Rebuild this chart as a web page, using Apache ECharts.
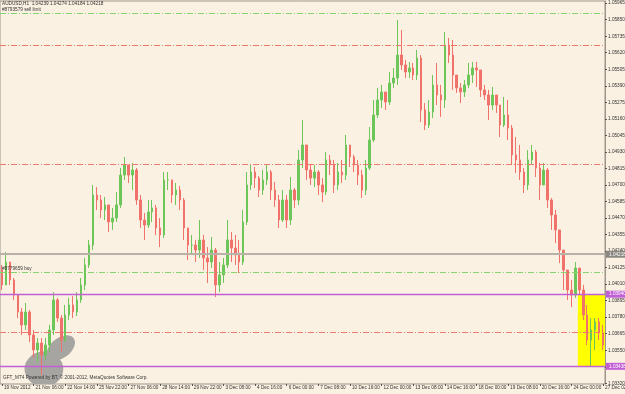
<!DOCTYPE html>
<html><head><meta charset="utf-8">
<script src="https://cdn.jsdelivr.net/npm/echarts@6/dist/echarts.min.js"></script>
<style>html,body{margin:0;padding:0;background:#fbf1e2;}#c{width:625px;height:394px;}</style>
</head><body><div id="c"></div>
<script>
// ---- data (AUDUSD H1, one candle per ~4 hours) ----
const firstOpen = 1.04108;
const closes = [
1.04004,1.04164,1.04039,1.03934,1.03816,1.03726,1.03816,1.03656,1.03552,1.03600,
1.03517,1.03586,1.03691,1.03900,1.03774,1.03621,1.03795,1.03865,1.03816,1.03900,
1.04004,1.04143,1.04282,1.04630,1.04595,1.04526,1.04561,1.04442,1.04470,1.04561,
1.04769,1.04839,1.04769,1.04804,1.04595,1.04456,1.04421,1.04512,1.04540,1.04401,
1.04352,1.04735,1.04735,1.04630,1.04665,1.04595,1.04401,1.04282,1.04282,1.04247,
1.04317,1.04192,1.04164,1.04247,1.04004,1.04074,1.04143,1.04317,1.04261,1.04213,
1.04164,1.04442,1.04700,1.04790,1.04748,1.04665,1.04735,1.04790,1.04665,1.04595,
1.04456,1.04595,1.04456,1.04665,1.04595,1.04874,1.04978,1.04804,1.04748,1.04790,
1.04700,1.04651,1.04874,1.04839,1.04700,1.04790,1.04769,1.04978,1.04895,1.04839,
1.04769,1.04665,1.04818,1.05013,1.05187,1.05291,1.05347,1.05277,1.05409,1.05444,
1.05604,1.05535,1.05486,1.05514,1.05465,1.05583,1.05222,1.05117,1.05208,1.05396,
1.05326,1.05291,1.05674,1.05604,1.05465,1.05375,1.05347,1.05396,1.05465,1.05514,
1.05500,1.05361,1.05326,1.05256,1.05326,1.05256,1.05117,1.05187,1.05096,1.04909,
1.04874,1.04790,1.04700,1.04874,1.04929,1.04818,1.04700,1.04804,1.04595,1.04491,
1.04387,1.04247,1.04108,1.03969,1.03934,1.04122,1.03969,1.03795,1.03621,1.03691,
1.03747,1.03670,1.03586];
const highs = [
1.04143,1.04234,1.04143,1.04053,1.03934,1.03844,1.03879,1.03830,1.03691,1.03635,
1.03635,1.03635,1.03726,1.03955,1.03914,1.03795,1.03865,1.03914,1.03927,1.03955,
1.04053,1.04192,1.04317,1.04700,1.04686,1.04630,1.04616,1.04561,1.04540,1.04651,
1.04818,1.04895,1.04839,1.04853,1.04818,1.04630,1.04505,1.04595,1.04595,1.04561,
1.04470,1.04790,1.04790,1.04735,1.04714,1.04693,1.04609,1.04387,1.04352,1.04317,
1.04456,1.04352,1.04268,1.04338,1.04261,1.04164,1.04192,1.04456,1.04373,1.04352,
1.04317,1.04526,1.04790,1.04839,1.04825,1.04762,1.04804,1.04839,1.04804,1.04721,
1.04630,1.04665,1.04630,1.04755,1.04679,1.04943,1.05152,1.04943,1.04839,1.04839,
1.04804,1.04748,1.04929,1.04909,1.04874,1.04853,1.04874,1.05048,1.04978,1.04909,
1.04874,1.04804,1.04874,1.05103,1.05291,1.05375,1.05396,1.05326,1.05486,1.05514,
1.05848,1.05778,1.05570,1.05556,1.05549,1.05639,1.05604,1.05270,1.05291,1.05465,
1.05549,1.05396,1.05764,1.05723,1.05709,1.05451,1.05409,1.05430,1.05549,1.05556,
1.05556,1.05500,1.05396,1.05361,1.05382,1.05312,1.05256,1.05312,1.05291,1.05117,
1.05034,1.04978,1.04818,1.04943,1.04978,1.04943,1.04853,1.04853,1.04818,1.04609,
1.04526,1.04338,1.04213,1.04074,1.04039,1.04164,1.04122,1.04004,1.03865,1.03774,
1.03774,1.03774,1.03726];
const lows = [
1.03969,1.04004,1.04004,1.03900,1.03774,1.03656,1.03691,1.03607,1.03496,1.03468,
1.03378,1.03482,1.03538,1.03656,1.03747,1.03538,1.03607,1.03760,1.03774,1.03788,
1.03879,1.03969,1.04122,1.04247,1.04526,1.04470,1.04456,1.04373,1.04387,1.04442,
1.04540,1.04735,1.04714,1.04665,1.04561,1.04401,1.04317,1.04401,1.04442,1.04352,
1.04268,1.04331,1.04665,1.04575,1.04561,1.04526,1.04317,1.04178,1.04213,1.04164,
1.04192,1.04108,1.04018,1.04122,1.03920,1.03955,1.04018,1.04122,1.04164,1.04143,
1.04087,1.04143,1.04421,1.04665,1.04679,1.04616,1.04630,1.04700,1.04595,1.04547,
1.04401,1.04442,1.04401,1.04421,1.04540,1.04561,1.04818,1.04735,1.04700,1.04686,
1.04630,1.04581,1.04630,1.04769,1.04644,1.04665,1.04714,1.04735,1.04825,1.04790,
1.04700,1.04609,1.04630,1.04804,1.04999,1.05166,1.05236,1.05222,1.05256,1.05375,
1.05396,1.05500,1.05444,1.05444,1.05430,1.05430,1.05138,1.05082,1.05096,1.05166,
1.05256,1.05173,1.05236,1.05549,1.05361,1.05340,1.05270,1.05312,1.05375,1.05409,
1.05382,1.05312,1.05291,1.05152,1.05222,1.05201,1.05034,1.05103,1.05013,1.04839,
1.04783,1.04735,1.04644,1.04665,1.04839,1.04755,1.04595,1.04735,1.04540,1.04387,
1.04296,1.04157,1.03969,1.03900,1.03851,1.03914,1.03934,1.03760,1.03586,1.03440,
1.03552,1.03621,1.03552];
const xLabels = ["19 Nov 2012","21 Nov 06:00","22 Nov 14:00","25 Nov 22:00","27 Nov 06:00","28 Nov 14:00","29 Nov 22:00","3 Dec 08:00","4 Dec 16:00","6 Dec 00:00","7 Dec 08:00","10 Dec 16:00","12 Dec 00:00","13 Dec 08:00","14 Dec 16:00","18 Dec 00:00","19 Dec 08:00","20 Dec 16:00","24 Dec 00:00","27 Dec 02:00"];
const xLabelStep = 8;
const yTicks = [1.03320,1.03435,1.03550,1.03665,1.03780,1.03895,1.04010,1.04125,1.04240,1.04355,1.04470,1.04585,1.04700,1.04815,1.04930,1.05045,1.05160,1.05275,1.05390,1.05505,1.05620,1.05735,1.05850,1.05965];
const yMin = 1.03315, yMax = 1.05980;
const entryPrices = [1.05895, 1.04092];
const entryNames = ["#8793579 sell limit", "#8779659 buy"];
const stopPrices = [1.05674, 1.04846, 1.03675];
const hLinePrices = [1.03940, 1.03438];
const bidPrice = 1.04218;
const titleText = "AUDUSD,H1  1.04239 1.04274 1.04184 1.04218";
const footerText = "GFT_MT4 Powered by BT, \u00a9 2001-2012, MetaQuotes Software Corp.";
const boxStart = 146; // candle index where the yellow rectangle starts
const boxPrices = [1.03940, 1.03438];
// ellipses: [centre candle index, centre price, half-width (candles), half-height (price), rotation deg]
const ellipses = [[10.6, 1.03419, 4.9, 0.00122, 0], [14.9, 1.03566, 4.05, 0.00070, 38]];

// ---- build ----
const FONT = 'Liberation Sans';
const GREEN = '#6cc65a', RED = '#f1726a', VIOLET = '#c15fd6';
const cats = closes.map((_, i) => String(i));
const ohlc = closes.map((c, i) => {
  const o = i === 0 ? firstOpen : closes[i - 1];
  return [o, c, Math.min(lows[i], o, c), Math.max(highs[i], o, c)];
});
const labelAt = i => (i % xLabelStep === 0 && i / xLabelStep < xLabels.length - 1) ? xLabels[i / xLabelStep]
  : (i === closes.length - 1 ? xLabels[xLabels.length - 1] : null);
const dashDot = [6, 2, 1, 2];
const mlData = [];
entryPrices.forEach((p, i) => mlData.push({yAxis: p, lineStyle: {color: '#86d46e', type: dashDot, width: 1},
  label: {show: true, position: 'insideStartTop', formatter: entryNames[i], fontSize: 4.7, color: '#333', fontFamily: FONT, distance: [2, 1]}}));
stopPrices.forEach(p => mlData.push({yAxis: p, lineStyle: {color: '#f0796c', type: dashDot, width: 1}, label: {show: false}}));
mlData.push({yAxis: bidPrice, lineStyle: {color: '#b9b2a8', type: 'solid', width: 2},
  label: {show: true, position: 'end', formatter: bidPrice.toFixed(5), backgroundColor: '#8a8680', color: '#fff', fontSize: 4.7, fontFamily: FONT, padding: [1, 3], distance: 1}});
hLinePrices.forEach(p => mlData.push({yAxis: p, lineStyle: {color: VIOLET, type: 'solid', width: 1.3},
  label: {show: true, position: 'end', formatter: p.toFixed(5), backgroundColor: VIOLET, color: '#fff', fontSize: 4.7, fontFamily: FONT, padding: [1, 3], distance: 1}}));

const chart = echarts.init(document.getElementById('c'), null, {renderer: 'canvas'});
chart.setOption({
  animation: false,
  backgroundColor: '#fbf1e2',
  title: [
    {text: titleText, left: 2, top: 1, padding: 0, textStyle: {fontSize: 4.7, fontWeight: 'normal', color: '#333', fontFamily: FONT}},
    {text: footerText, left: 3, top: 375, padding: 0, textStyle: {fontSize: 4.7, fontWeight: 'normal', color: '#333', fontFamily: FONT}}
  ],
  grid: {left: 0, top: 1, width: 605, height: 383, outerBoundsMode: 'none', containLabel: false, show: true, borderColor: '#9d958a', borderWidth: 1, backgroundColor: 'transparent'},
  xAxis: {type: 'category', data: cats, boundaryGap: true,
    axisLine: {show: false},
    axisTick: {show: true, alignWithLabel: true, interval: i => labelAt(i) !== null, length: 2, lineStyle: {color: '#555'}},
    axisLabel: {interval: i => labelAt(i) !== null, formatter: (v, i) => labelAt(i) || '', align: 'left', fontSize: 4.7, color: '#333', margin: 1, fontFamily: FONT, padding: [0, 0, 0, 2], hideOverlap: false},
    splitLine: {show: false}},
  yAxis: {type: 'value', position: 'right', min: yMin, max: yMax, scale: true,
    axisLine: {show: true, lineStyle: {color: '#9d958a'}},
    axisTick: {show: true, length: 2, customValues: yTicks, lineStyle: {color: '#555'}},
    axisLabel: {customValues: yTicks, formatter: v => v.toFixed(5), fontSize: 4.7, color: '#333', margin: 3, fontFamily: FONT, hideOverlap: false},
    splitLine: {show: false}},
  series: [
    {type: 'custom', z: 1, silent: true, data: [[boxStart, boxPrices[0]]],
      renderItem: (params, api) => {
        const cs = params.coordSys;
        const band = api.size([1, 0])[0];
        const p1 = api.coord([boxStart, boxPrices[0]]);
        const p2 = api.coord([boxStart, boxPrices[1]]);
        const x1 = p1[0] - band / 2 + 0.5;
        return {type: 'rect', shape: {x: x1, y: p1[1], width: cs.x + cs.width - x1, height: p2[1] - p1[1]}, style: {fill: '#ffff00'}};
      }},
    {type: 'custom', z: 1, silent: true, data: ellipses.map(e => [Math.round(e[0]), e[1]]),
      renderItem: (params, api) => {
        const e = ellipses[params.dataIndex];
        const cs = params.coordSys;
        const i0 = Math.floor(e[0]), f = e[0] - i0;
        const band = api.size([1, 0])[0];
        const c = api.coord([i0, e[1]]);
        const rx = e[2] * band, ry = api.size([0, e[3]])[1];
        return {type: 'group', clipPath: {type: 'rect', shape: {x: cs.x, y: cs.y, width: cs.width, height: cs.height}},
          children: [{type: 'circle', x: c[0] + f * band, y: c[1], scaleX: rx, scaleY: ry, rotation: e[4] * Math.PI / 180,
            shape: {cx: 0, cy: 0, r: 1}, style: {fill: '#a7a5a2'}}]};
      }},
    {type: 'candlestick', z: 3, data: ohlc, barWidth: 2,
      itemStyle: {color: GREEN, color0: RED, borderColor: GREEN, borderColor0: RED, borderWidth: 1},
      markLine: {symbol: 'none', silent: true, animation: false, precision: 5, data: mlData}}
  ]
});
</script></body></html>
